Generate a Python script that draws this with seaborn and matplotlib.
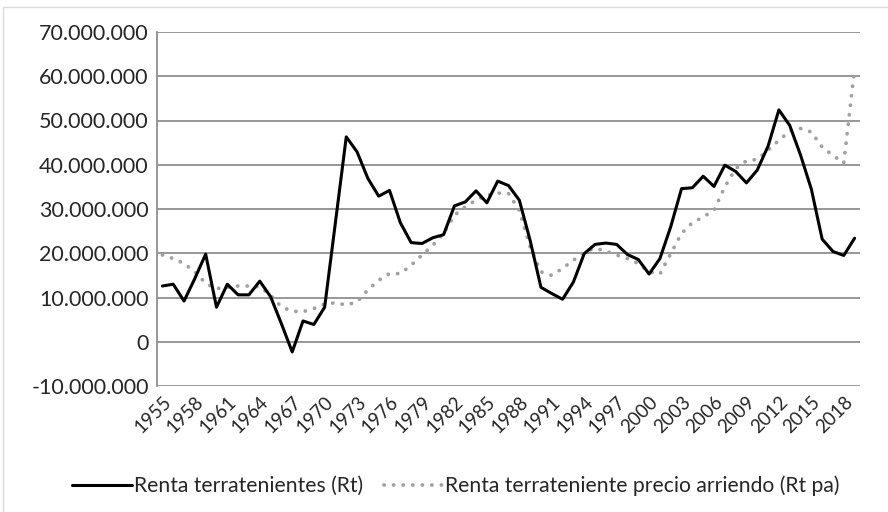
import matplotlib
matplotlib.use("Agg")
import matplotlib.pyplot as plt
from matplotlib.ticker import FuncFormatter, FixedLocator
from matplotlib.patches import Rectangle
import seaborn as sns
import pandas as pd
import numpy as np

years = list(range(1955, 2020))

renta_rt = [
    12.6, 13.0, 9.2, 14.3, 19.8, 7.8, 13.0, 10.6, 10.6, 13.7,
    10.2, 4.1, -2.3, 4.7, 3.9, 7.8, 27.0, 46.3, 42.9, 36.9,
    32.9, 34.2, 26.9, 22.4, 22.2, 23.5, 24.2, 30.7, 31.6, 34.1,
    31.4, 36.3, 35.3, 32.0, 22.9, 12.3, 10.9, 9.6, 13.5, 19.9,
    22.0, 22.3, 22.0, 19.7, 18.6, 15.3, 18.8, 26.0, 34.6, 34.8,
    37.4, 35.1, 39.9, 38.5, 35.9, 38.8, 44.2, 52.4, 48.9, 42.2,
    34.5, 23.2, 20.4, 19.5, 23.4,
]

renta_rt_pa = [
    19.6, 18.8, 17.7, 15.8, 13.2, 12.0, 12.3, 12.6, 12.6, 12.4,
    10.5, 7.9, 6.9, 6.8, 7.5, 8.5, 8.8, 8.3, 9.0, 11.7,
    13.9, 15.4, 15.4, 17.3, 19.6, 21.8, 24.5, 28.6, 30.5, 32.0,
    33.1, 33.6, 33.5, 29.7, 21.4, 15.8, 15.0, 16.6, 18.4, 20.3,
    21.1, 20.5, 19.6, 18.8, 17.7, 15.8, 15.3, 19.9, 24.5, 26.9,
    28.2, 29.7, 35.0, 39.1, 40.9, 41.2, 43.3, 45.5, 47.6, 48.2,
    47.4, 44.0, 42.1, 40.4, 61.7,
]

label_rt = "Renta terratenientes (Rt)"
label_rt_pa = "Renta terrateniente precio arriendo (Rt pa)"

df = pd.DataFrame({
    "pos": np.arange(len(years)),
    "rt": np.array(renta_rt) * 1e6,
    "rt_pa": np.array(renta_rt_pa) * 1e6,
})

sns.set_theme(style="white")
plt.rcParams["font.family"] = ["Lato", "DejaVu Sans"]

fig = plt.figure(figsize=(8.88, 5.12), dpi=100)
ax = fig.add_axes([157 / 888, 1 - 386 / 512, (860 - 157) / 888, (386 - 32) / 512])

# outer chart border
fig.patches.append(Rectangle((3 / 888, -0.1), 1.2, 1 - 7 / 512 + 0.1,
                             transform=fig.transFigure, fill=False,
                             edgecolor="#d9d9d9", linewidth=1.0, zorder=0))

sns.lineplot(data=df, x="pos", y="rt", ax=ax, color="black", linewidth=2.2,
             label=label_rt, zorder=3)
sns.lineplot(data=df, x="pos", y="rt_pa", ax=ax, color="#a0a0a0", linewidth=2.7,
             label=label_rt_pa, zorder=2,
             linestyle=(0, (0.05, 2.5)), dash_capstyle="round")

ax.set_xlim(-0.5, len(years) - 0.5)
ax.set_ylim(-10e6, 70e6)
ax.set_yticks(np.arange(-10e6, 70e6 + 1, 10e6))
ax.yaxis.set_major_formatter(FuncFormatter(lambda v, _: f"{v:,.0f}".replace(",", ".")))
ax.yaxis.grid(True, color="#8f8f8f", linewidth=1.3)
ax.set_axisbelow(True)

tick_pos = list(range(0, len(years), 3))
ax.xaxis.set_major_locator(FixedLocator(tick_pos))
ax.set_xticklabels([str(years[i]) for i in tick_pos], rotation=45,
                   ha="right", va="top", rotation_mode="anchor", fontsize=13.5)
ax.tick_params(axis="y", labelsize=15.5, length=0, pad=6)
ax.tick_params(axis="x", length=0, pad=5)
ax.set_xlabel("")
ax.set_ylabel("")

for side in ["top", "right", "bottom"]:
    ax.spines[side].set_visible(False)
ax.spines["left"].set_color("#8f8f8f")
ax.spines["left"].set_linewidth(1.3)

ax.legend(loc="center", bbox_to_anchor=(456 / 888, 1 - 486 / 512),
          bbox_transform=fig.transFigure, ncol=2, frameon=False,
          fontsize=15.2, handlelength=2.8, handletextpad=0.1, columnspacing=1.0)

fig.savefig("out.png", dpi=100)
